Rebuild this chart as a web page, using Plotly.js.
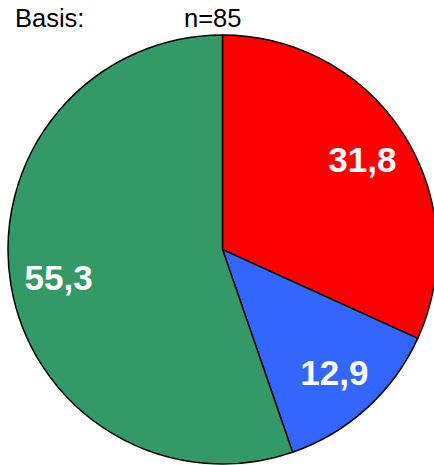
<!DOCTYPE html>
<html>
<head>
<meta charset="utf-8">
<script src="https://cdn.plot.ly/plotly-3.0.1.min.js"></script>
<style>
html,body{margin:0;padding:0;overflow:hidden;background:#fff;}
#chart{width:437px;height:465px;}
</style>
</head>
<body>
<div id="chart"></div>
<script>
const categories = ["Rot", "Blau", "Grün"];
const values = [31.8, 12.9, 55.3];
const sliceColors = ["#FF0000", "#3366FF", "#339966"];
const basisLabel = "Basis:";
const nLabel = "n=85";

const labelFont = {family: "Liberation Sans, Arial, sans-serif", size: 35, color: "#FFFFFF", weight: "bold"};

// filled slices
const pieTrace = {
  type: "pie",
  labels: categories,
  values: values,
  sort: false,
  direction: "clockwise",
  rotation: 0,
  marker: {colors: sliceColors, line: {color: "#000000", width: 1.5}},
  textinfo: "none",
  hoverinfo: "none",
  showlegend: false
};

// transparent ring carrying the value labels further out in each slice
const labelTrace = {
  type: "pie",
  labels: categories,
  values: values,
  sort: false,
  direction: "clockwise",
  rotation: 0,
  hole: 0.55,
  marker: {colors: ["rgba(0,0,0,0)", "rgba(0,0,0,0)", "rgba(0,0,0,0)"], line: {width: 0}},
  texttemplate: "%{value:.1f}",
  textposition: "inside",
  insidetextorientation: "horizontal",
  textfont: labelFont,
  hoverinfo: "none",
  showlegend: false
};

const layout = {
  width: 437,
  height: 465,
  margin: {l: 8, r: 0, t: 35, b: 1, pad: 0},
  paper_bgcolor: "#FFFFFF",
  separators: ",.",
  showlegend: false,
  annotations: [
    {text: basisLabel, xref: "paper", yref: "paper", x: 0.0117, y: 1.0396, xanchor: "left", yanchor: "middle", showarrow: false,
     font: {family: "Liberation Sans, Arial, sans-serif", size: 25.5, color: "#000000"}},
    {text: nLabel, xref: "paper", yref: "paper", x: 0.4767, y: 1.0396, xanchor: "center", yanchor: "middle", showarrow: false,
     font: {family: "Liberation Sans, Arial, sans-serif", size: 25.5, color: "#000000"}}
  ]
};

Plotly.newPlot("chart", [pieTrace, labelTrace], layout, {staticPlot: true, displayModeBar: false});
</script>
</body>
</html>
